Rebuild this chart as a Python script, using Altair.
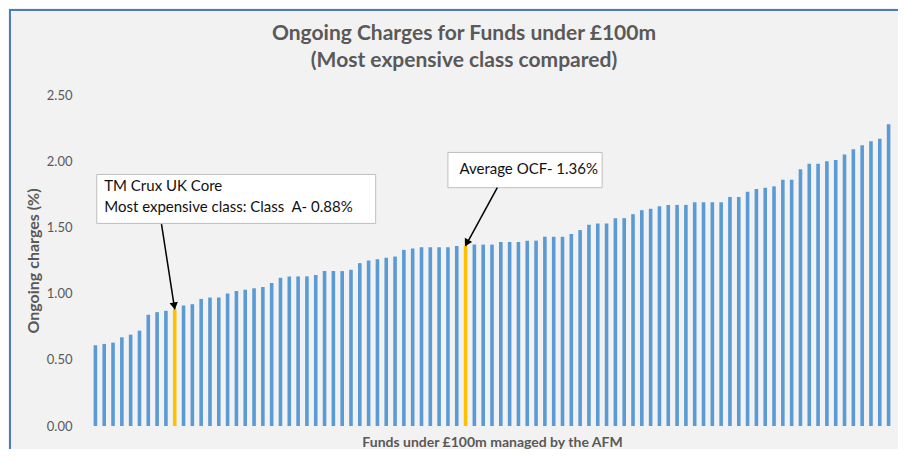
import altair as alt
import pandas as pd

# ---- data ----
charges = [
    0.61, 0.62, 0.63, 0.67, 0.69, 0.72, 0.84, 0.86, 0.87, 0.88, 0.91, 0.92, 0.96, 0.97, 0.97, 1.00, 1.02,
    1.03, 1.04, 1.05, 1.08, 1.12, 1.13, 1.13, 1.13, 1.14, 1.17, 1.17, 1.17, 1.18, 1.23, 1.25, 1.26,
    1.27, 1.28, 1.33, 1.34, 1.35, 1.35, 1.35, 1.35, 1.36, 1.36, 1.37, 1.37, 1.37, 1.39, 1.39, 1.39,
    1.40, 1.40, 1.43, 1.43, 1.43, 1.45, 1.48, 1.52, 1.53, 1.53, 1.57, 1.57, 1.60, 1.63, 1.64, 1.66,
    1.67, 1.67, 1.67, 1.69, 1.69, 1.69, 1.69, 1.73, 1.73, 1.77, 1.79, 1.80, 1.81, 1.86, 1.86, 1.94,
    1.98, 1.98, 2.00, 2.01, 2.05, 2.09, 2.12, 2.15, 2.17, 2.28,
]
highlighted = [9, 42]  # TM Crux UK Core (0.88%), Average OCF (1.36%)
y_ticks = [0, 0.5, 1.0, 1.5, 2.0, 2.5]

title_lines = ["Ongoing Charges for Funds under £100m", "(Most expensive class compared)"]
x_title = "Funds under £100m managed by the AFM"
y_title = "Ongoing charges (%)"

# annotation boxes (fund index / charge units)
box_x = [0.15, 40.0]
box_x2 = [31.8, 57.5]
box_y = [1.90, 2.066]
box_y2 = [1.53, 1.80]

# annotation texts
note_text = ["TM Crux UK Core", "Most expensive class: Class\u00a0 A- 0.88%", "Average OCF- 1.36%"]
note_x = [1.0, 1.0, 41.3]
note_y = [1.81, 1.652, 1.94]

# arrows: start (box edge) -> end (bar top)
arrow_x = [7.5, 45.6]
arrow_y = [1.525, 1.80]
arrow_x2 = [9.0, 42.0]
arrow_y2 = [0.88, 1.36]
head_x = [8.93, 42.2]
head_y = [0.915, 1.39]
head_angle = [170.4, 209.0]

# ---- frames ----
bars = pd.DataFrame({
    "fund": list(range(len(charges))),
    "charge": charges,
    "kind": ["highlight" if i in highlighted else "fund" for i in range(len(charges))],
})
boxes = pd.DataFrame({"x": box_x, "x2": box_x2, "y": box_y, "y2": box_y2})
notes = pd.DataFrame({"x": note_x, "y": note_y, "text": note_text})
arrows = pd.DataFrame({"x": arrow_x, "y": arrow_y, "x2": arrow_x2, "y2": arrow_y2})
heads = pd.DataFrame({"x": head_x, "y": head_y, "angle": head_angle})

xscale = alt.Scale(domain=[-0.5, len(charges) - 0.5], nice=False, zero=False)
yscale = alt.Scale(domain=[0, 2.5], nice=False)

GRAY = "#595959"

bar_layer = alt.Chart(bars).mark_bar(size=3.6).encode(
    x=alt.X("fund:Q", scale=xscale,
            axis=alt.Axis(title=x_title, labels=False, ticks=False, domain=False, grid=False,
                          titleFont="Lato", titleFontSize=14, titleFontWeight="bold",
                          titleColor=GRAY, titlePadding=9)),
    y=alt.Y("charge:Q", scale=yscale,
            axis=alt.Axis(title=y_title, values=y_ticks, format=".2f", ticks=False, domain=False,
                          grid=False, labelFont="Lato", labelFontSize=13, labelColor=GRAY,
                          labelPadding=14, titleFont="Lato", titleFontSize=16,
                          titleFontWeight="bold", titleColor=GRAY, titlePadding=5)),
    color=alt.Color("kind:N", scale=alt.Scale(domain=["fund", "highlight"],
                                              range=["#5b9bd5", "#ffc000"]), legend=None),
)

box_layer = alt.Chart(boxes).mark_rect(fill="white", stroke="#bfbfbf", strokeWidth=1).encode(
    x="x:Q", x2="x2:Q", y="y:Q", y2="y2:Q"
)

note_layer = alt.Chart(notes).mark_text(align="left", baseline="middle", font="Lato",
                                        fontSize=15, color="#111111").encode(
    x="x:Q", y="y:Q", text="text:N"
)

arrow_layer = alt.Chart(arrows).mark_rule(color="#000000", strokeWidth=1.5).encode(
    x="x:Q", y="y:Q", x2="x2:Q", y2="y2:Q"
)

head_layer = alt.Chart(heads).mark_point(shape="triangle", filled=True, color="#000000",
                                         size=70, opacity=1).encode(
    x="x:Q", y="y:Q", angle=alt.Angle("angle:Q", scale=None)
)

frame_layer = alt.Chart(pd.DataFrame({"a": [0]})).mark_rect(
    fill=None, stroke="#4a7ebb", strokeWidth=2
).encode(x=alt.value(-76), x2=alt.value(1200), y=alt.value(-85), y2=alt.value(1200))

chart = alt.layer(
    bar_layer, box_layer, note_layer, arrow_layer, head_layer, frame_layer
).properties(
    width=812,
    height=331,
    title=alt.TitleParams(text=title_lines, font="Lato", fontSize=21, fontWeight="bold",
                          color=GRAY, anchor="middle", frame="group", offset=16,
                          dx=-28, dy=78, lineHeight=27),
    autosize=alt.AutoSizeParams(type="none"),
    padding={"left": 78, "top": 87, "right": 0, "bottom": 23},
    background="#f2f2f2",
).configure_view(stroke=None)

chart.save("out.html", embed_options={"renderer": "svg", "actions": False})
